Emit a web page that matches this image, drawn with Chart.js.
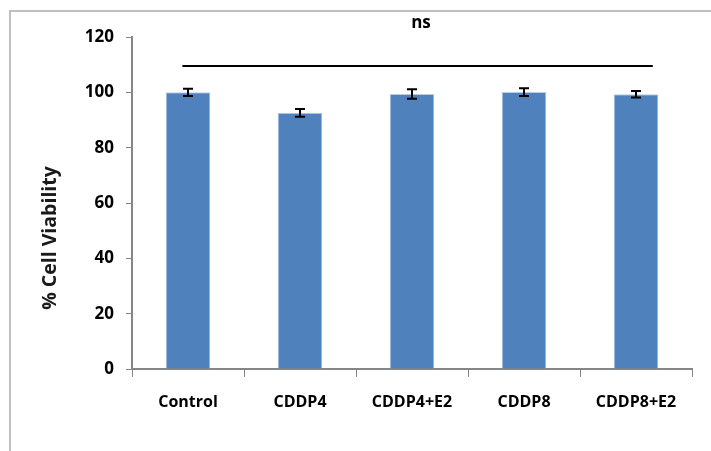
<!DOCTYPE html>
<html>
<head>
<meta charset="utf-8">
<script src="https://cdn.jsdelivr.net/npm/chart.js@4"></script>
<style>
  html, body { margin: 0; padding: 0; background: #fff; }
  #wrap { position: relative; width: 711px; height: 451px; overflow: hidden; }
  #frame { position: absolute; left: 9px; top: 10px; width: 800px; height: 500px;
           border-left: 2px solid #bfbfbf; border-top: 2px solid #bfbfbf; }
  canvas { position: absolute; left: 0; top: 0; }
</style>
</head>
<body>
<div id="wrap">
  <div id="frame"></div>
  <canvas id="c" width="711" height="451"></canvas>
</div>
<script>
// dados
const categorias = ["Control", "CDDP4", "CDDP4+E2", "CDDP8", "CDDP8+E2"];
const viabilidade = [100, 92.6, 99.4, 100.1, 99.3];
const erros = [1.3, 1.4, 1.7, 1.4, 1.2];
const yTicks = [0, 20, 40, 60, 80, 100, 120];
const tituloY = "% Cell Viability";
const linhaNs = 109.5;
const textoNs = "ns";

const FONTE = "'Open Sans', Lato, sans-serif";

// barras de erro + linha "ns" + título do eixo y
const extras = {
  id: "extras",
  afterDatasetsDraw(chart) {
    const { ctx, scales: { x, y } } = chart;
    const meta = chart.getDatasetMeta(0);
    ctx.save();
    ctx.strokeStyle = "#000";
    ctx.lineWidth = 2;
    meta.data.forEach((bar, i) => {
      const cx = bar.x;
      const top = y.getPixelForValue(viabilidade[i] + erros[i]);
      const bot = y.getPixelForValue(viabilidade[i] - erros[i]);
      ctx.beginPath();
      ctx.moveTo(cx, top); ctx.lineTo(cx, bot);
      ctx.moveTo(cx - 5, top); ctx.lineTo(cx + 5, top);
      ctx.moveTo(cx - 5, bot); ctx.lineTo(cx + 5, bot);
      ctx.stroke();
    });

    // linha de significância
    const w = x.getPixelForValue(1) - x.getPixelForValue(0);
    const ly = y.getPixelForValue(linhaNs);
    ctx.beginPath();
    ctx.moveTo(x.getPixelForValue(0) - 0.05 * w, ly);
    ctx.lineTo(x.getPixelForValue(4) + 0.15 * w, ly);
    ctx.stroke();

    ctx.fillStyle = "#000";
    ctx.font = `bold 17px ${FONTE}`;
    ctx.textAlign = "center";
    ctx.textBaseline = "middle";
    ctx.fillText(textoNs, (x.left + x.right) / 2 + 9, 23);

    ctx.font = `bold 19.5px ${FONTE}`;
    ctx.translate(50, 238);
    ctx.rotate(-Math.PI / 2);
    ctx.fillStyle = "#1a1a1a";
    ctx.fillText(tituloY, 0, 0);
    ctx.restore();
  }
};

new Chart(document.getElementById("c"), {
  type: "bar",
  data: {
    labels: categorias,
    datasets: [{
      data: viabilidade,
      backgroundColor: "#4f81bd",
      borderColor: "#b9cde5",
      borderWidth: 1,
      barPercentage: 0.8,
      categoryPercentage: 0.5
    }]
  },
  options: {
    responsive: false,
    animation: false,
    layout: { padding: { top: 37, right: 19, bottom: 0, left: 0 } },
    plugins: { legend: { display: false }, tooltip: { enabled: false } },
    scales: {
      x: {
        afterFit: s => { s.height = 451 - 369; },
        grid: { drawOnChartArea: false, color: "#868686", tickLength: 8, offset: true },
        border: { color: "#868686", width: 2 },
        ticks: { color: "#000", padding: 16, font: { family: FONTE, size: 16, weight: "bold" } }
      },
      y: {
        min: 0, max: 120,
        afterBuildTicks: s => { s.ticks = yTicks.map(v => ({ value: v })); },
        afterFit: s => { s.width = 132; },
        grid: { drawOnChartArea: false, color: "#868686", tickLength: 6 },
        border: { color: "#868686", width: 2 },
        ticks: { color: "#000", padding: 12, font: { family: FONTE, size: 17, weight: "bold" } }
      }
    }
  },
  plugins: [extras]
});
</script>
</body>
</html>
